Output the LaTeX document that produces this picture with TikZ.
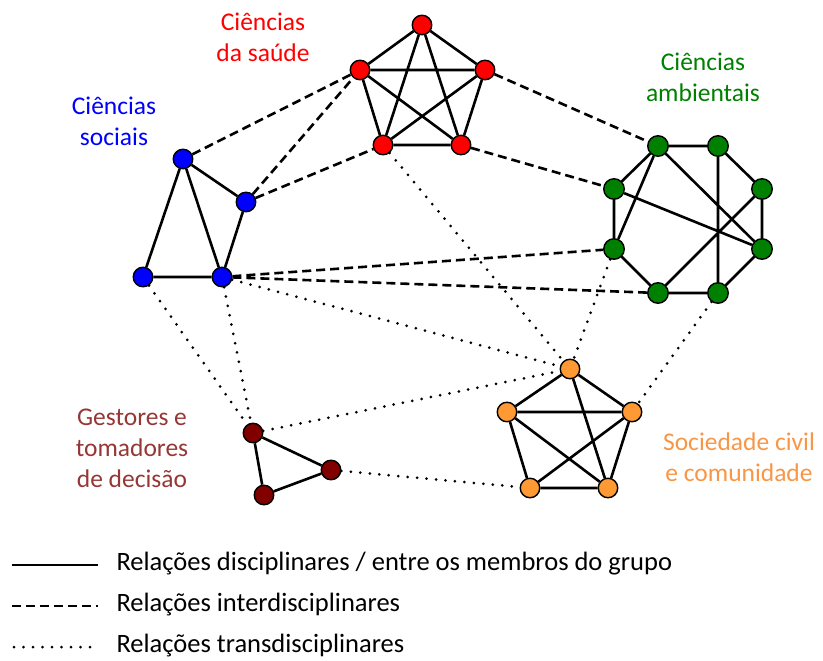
\documentclass[tikz,border=0pt]{standalone}
\usepackage{fontspec}
\setmainfont{Carlito}
\definecolor{cred}{RGB}{255,0,0}
\definecolor{cblue}{RGB}{0,0,255}
\definecolor{cgreen}{RGB}{0,128,0}
\definecolor{corange}{RGB}{255,153,51}
\definecolor{cdark}{RGB}{128,0,0}
\definecolor{lbrown}{RGB}{150,55,53}
\definecolor{lorange}{RGB}{247,150,70}
\tikzset{
  vtx/.style={circle,draw=black,line width=1.4pt,minimum size=19.5pt,inner sep=0pt},
  solidl/.style={line width=2.6pt},
  dashl/.style={line width=2.6pt,dash pattern=on 9pt off 5pt},
  dotl/.style={line width=3pt,line cap=round,dash pattern=on 0pt off 9.5pt},
  lab/.style={align=center,font=\fontsize{25.5}{31}\selectfont},
  legt/.style={anchor=west,font=\fontsize{26.5}{31}\selectfont}
}
\begin{document}
\begin{tikzpicture}[x=1pt,y=-1pt]
\useasboundingbox (0,0) rectangle (823,661);
% red
\node[vtx,fill=cred] (R1) at (422,25) {};
\node[vtx,fill=cred] (R2) at (360,70) {};
\node[vtx,fill=cred] (R3) at (485,70) {};
\node[vtx,fill=cred] (R4) at (383,145) {};
\node[vtx,fill=cred] (R5) at (461,145) {};
% green
\node[vtx,fill=cgreen,minimum size=20.5pt] (G1) at (658,146) {};
\node[vtx,fill=cgreen,minimum size=20.5pt] (G2) at (718,146) {};
\node[vtx,fill=cgreen,minimum size=20.5pt] (G3) at (762,189) {};
\node[vtx,fill=cgreen,minimum size=20.5pt] (G4) at (614,189) {};
\node[vtx,fill=cgreen,minimum size=20.5pt] (G5) at (614,249) {};
\node[vtx,fill=cgreen,minimum size=20.5pt] (G6) at (762,249) {};
\node[vtx,fill=cgreen,minimum size=20.5pt] (G7) at (658,293) {};
\node[vtx,fill=cgreen,minimum size=20.5pt] (G8) at (718,293) {};
% blue
\node[vtx,fill=cblue] (B1) at (183,159) {};
\node[vtx,fill=cblue] (B2) at (246,202) {};
\node[vtx,fill=cblue] (B3) at (143,277) {};
\node[vtx,fill=cblue] (B4) at (222,277) {};
% orange
\node[vtx,fill=corange] (O1) at (570,369) {};
\node[vtx,fill=corange] (O2) at (632,412) {};
\node[vtx,fill=corange] (O3) at (507,412) {};
\node[vtx,fill=corange] (O4) at (530,488) {};
\node[vtx,fill=corange] (O5) at (608,488) {};
% dark red
\node[vtx,fill=cdark] (D1) at (253,433) {};
\node[vtx,fill=cdark] (D2) at (331,470) {};
\node[vtx,fill=cdark] (D3) at (264,495) {};

% solid intra-group
\draw[solidl] (R1)--(R2) (R1)--(R3) (R1)--(R4) (R1)--(R5) (R2)--(R3) (R2)--(R4) (R2)--(R5) (R3)--(R4) (R3)--(R5) (R4)--(R5);
\draw[solidl] (G1)--(G2) (G2)--(G3) (G3)--(G6) (G6)--(G8) (G8)--(G7) (G7)--(G5) (G5)--(G4) (G4)--(G1)
  (G1)--(G5) (G1)--(G6) (G4)--(G6) (G2)--(G8) (G3)--(G7);
\draw[solidl] (B1)--(B2) (B1)--(B3) (B1)--(B4) (B2)--(B4) (B3)--(B4);
\draw[solidl] (O1)--(O2) (O1)--(O3) (O1)--(O5) (O3)--(O2) (O3)--(O4) (O3)--(O5) (O2)--(O4) (O2)--(O5) (O4)--(O5);
\draw[solidl] (D1)--(D2) (D1)--(D3) (D2)--(D3);
% dashed
\draw[dashl] (B1)--(R2) (B2)--(R2) (B2)--(R4) (R3)--(G1) (R5)--(G4) (B4)--(G5) (B4)--(G7);
% dotted
\draw[dotl] (R4)--(O1) (B3)--(D1) (B4)--(D1) (B4)--(O1) (D1)--(O1) (D2)--(O4) (G5)--(O1) (G8)--(O2);

% labels
\node[lab,text=cred] (Lr) at (263,37) {Ciências\\da saúde};
\node[lab,text=cblue] (Lb) at (114,121) {Ciências\\sociais};
\node[lab,text=cgreen] (Lg) at (703,77) {Ciências\\ambientais};
\node[lab,text=lbrown] (Ld) at (132,448) {Gestores e\\tomadores\\de decisão};
\node[lab,text=lorange] (Lo) at (739,457) {Sociedade civil\\e comunidade};

% legend
\coordinate (a1) at (12,565); \coordinate (a2) at (98,565);
\coordinate (b1) at (12,606); \coordinate (b2) at (98,606);
\coordinate (c1) at (14,647); \coordinate (c2) at (98,647);
\draw[solidl] (a1)--(a2);
\draw[dashl] (b1)--(b2);
\draw[dotl] (c1)--(c2);
\node[legt] (t1) at (113,564) {Relações disciplinares / entre os membros do grupo};
\node[legt] (t2) at (113,605) {Relações interdisciplinares};
\node[legt] (t3) at (113,646) {Relações transdisciplinares};
\end{tikzpicture}
\end{document}
